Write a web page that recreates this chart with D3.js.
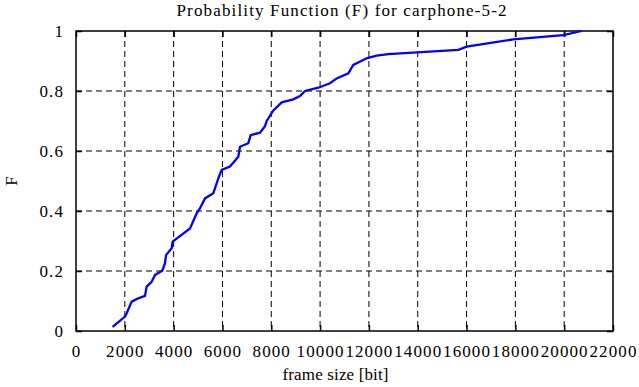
<!DOCTYPE html>
<html>
<head>
<meta charset="utf-8">
<script src="https://cdn.jsdelivr.net/npm/d3@7"></script>
<style>
  body { margin: 0; background: #fff; }
  svg text { font-family: "Liberation Serif", "Times New Roman", "DejaVu Serif", serif !important; fill: #000; }
</style>
</head>
<body>
<svg id="chart" width="639" height="387"></svg>
<script>
// frame size [bit] and cumulative probability
var frameSize = [1500, 2008, 2077, 2281, 2554, 2827, 2895, 3100, 3237, 3536, 3646, 3687,
  3920, 3960, 4670, 4945, 5080, 5285, 5626, 5830, 5967, 6309, 6649, 6719, 7060, 7153,
  7539, 7743, 7813, 8086, 8427, 8904, 9177, 9382, 9928, 10406, 10679, 11157, 11361,
  11907, 12317, 12795, 15663, 16005, 17916, 19966, 20717];
var probF = [0.014, 0.048, 0.059, 0.098, 0.109, 0.117, 0.148, 0.164, 0.187, 0.201, 0.226, 0.253,
  0.276, 0.298, 0.342, 0.392, 0.409, 0.442, 0.459, 0.509, 0.537, 0.548, 0.581, 0.614, 0.626, 0.653,
  0.661, 0.683, 0.70, 0.735, 0.762, 0.772, 0.783, 0.80, 0.811, 0.826, 0.842, 0.859, 0.887,
  0.909, 0.918, 0.923, 0.937, 0.948, 0.972, 0.986, 1.0];
var xTicks = d3.range(0, 22001, 2000);
var yTicks = [0, 0.2, 0.4, 0.6, 0.8, 1];
var yTickLabels = ["0", "0.2", "0.4", "0.6", "0.8", "1"];

var svg = d3.select("#chart");
var L = 76, R = 613, T = 31, B = 331;

var x = d3.scaleLinear().domain([0, 22000]).range([L, R]);
var y = d3.scaleLinear().domain([0, 1]).range([B, T]);

// grid
var grid = svg.append("g").attr("stroke", "#000").attr("stroke-width", 1)
  .attr("stroke-dasharray", "6,4");
grid.selectAll("line.gx").data(xTicks.slice(1, -1)).enter().append("line")
  .attr("x1", function(d) { return x(d); }).attr("x2", function(d) { return x(d); })
  .attr("y1", T).attr("y2", B);
grid.selectAll("line.gy").data(yTicks.slice(1, -1)).enter().append("line")
  .attr("x1", L).attr("x2", R)
  .attr("y1", function(d) { return y(d); }).attr("y2", function(d) { return y(d); });

// axes: ticks inward, mirrored on top and right
var fontSize = "17px";
svg.append("g").attr("transform", "translate(0," + B + ")")
  .call(d3.axisBottom(x).tickValues(xTicks).tickSize(-6).tickPadding(14).tickFormat(d3.format("d")))
  .call(function(g) { g.select(".domain").remove(); });
svg.append("g").attr("transform", "translate(0," + T + ")")
  .call(d3.axisTop(x).tickValues(xTicks).tickSize(-6).tickFormat(""))
  .call(function(g) { g.select(".domain").remove(); });
svg.append("g").attr("transform", "translate(" + L + ",0)")
  .call(d3.axisLeft(y).tickValues(yTicks).tickSize(-6).tickPadding(12)
    .tickFormat(function(d, i) { return yTickLabels[i]; }))
  .call(function(g) { g.select(".domain").remove(); });
svg.append("g").attr("transform", "translate(" + R + ",0)")
  .call(d3.axisRight(y).tickValues(yTicks).tickSize(-6).tickFormat(""))
  .call(function(g) { g.select(".domain").remove(); });

svg.selectAll(".tick line").attr("stroke", "#000").attr("stroke-width", 1.5);
svg.selectAll(".tick text").attr("font-size", fontSize).attr("fill", "#000")
  .style("letter-spacing", "1.1px");

// frame
svg.append("rect").attr("x", L).attr("y", T).attr("width", R - L).attr("height", B - T)
  .attr("fill", "none").attr("stroke", "#000").attr("stroke-width", 1.5);

// curve
var line = d3.line()
  .x(function(d, i) { return x(frameSize[i]); })
  .y(function(d) { return y(d); });
svg.append("path").datum(probF)
  .attr("d", line)
  .attr("fill", "none").attr("stroke", "#0000ff").attr("stroke-width", 2.3);

// labels
svg.append("text").attr("x", (L + R) / 2 - 3).attr("y", 16).attr("text-anchor", "middle")
  .attr("font-size", fontSize).attr("textLength", 330).attr("lengthAdjust", "spacing")
  .text("Probability Function (F) for carphone-5-2");
svg.append("text").attr("x", (L + R) / 2 - 9).attr("y", 380).attr("text-anchor", "middle")
  .attr("font-size", fontSize).attr("textLength", 106).attr("lengthAdjust", "spacing")
  .text("frame size [bit]");
svg.append("text").attr("transform", "translate(17," + ((T + B) / 2) + ") rotate(-90)")
  .attr("text-anchor", "middle").attr("font-size", fontSize).text("F");
</script>
</body>
</html>
